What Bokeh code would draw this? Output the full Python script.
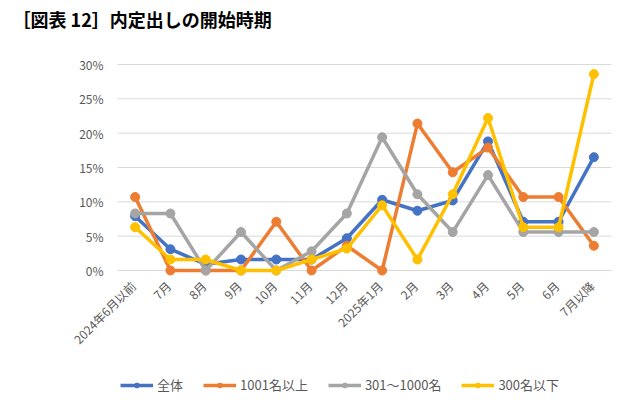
import math
from bokeh.plotting import figure
from bokeh.models import Range1d, Legend, LegendItem
from bokeh.core.properties import value
from bokeh.embed import file_html
from bokeh.resources import INLINE

categories = ["2024年6月以前", "7月", "8月", "9月", "10月", "11月", "12月",
              "2025年1月", "2月", "3月", "4月", "5月", "6月", "7月以降"]
series_names = ["全体", "1001名以上", "301～1000名", "300名以下"]
all_vals = [7.9, 3.1, 0.9, 1.6, 1.6, 1.6, 4.7, 10.3, 8.7, 10.2, 18.8, 7.1, 7.1, 16.5]
large_vals = [10.7, 0.0, 0.0, 0.0, 7.1, 0.0, 3.6, 0.0, 21.4, 14.3, 17.9, 10.7, 10.7, 3.6]
mid_vals = [8.3, 8.3, 0.0, 5.6, 0.0, 2.8, 8.3, 19.4, 11.1, 5.6, 13.9, 5.6, 5.6, 5.6]
small_vals = [6.3, 1.6, 1.6, 0.0, 0.0, 1.6, 3.2, 9.5, 1.6, 11.1, 22.2, 6.3, 6.3, 28.6]
colors = ["#4472C4", "#ED7D31", "#A5A5A5", "#FFC000"]
y_ticks = [0, 5, 10, 15, 20, 25, 30]
y_tick_labels = ["0%", "5%", "10%", "15%", "20%", "25%", "30%"]
title_text = "［図表 12］内定出しの開始時期"

FONT = "Noto Sans CJK JP"
W, H = 625, 399
n = len(categories)
XPX = 494 / n          # pixels per category
YPX = 206 / 30         # pixels per percentage point
plot_left, zero_y = 117, 270

x_start = -0.5 - plot_left / XPX
x_end = x_start + W / XPX
y_end = zero_y / YPX
y_start = -(H - zero_y) / YPX

p = figure(width=W, height=H, title=None,
           x_range=Range1d(x_start, x_end), y_range=Range1d(y_start, y_end),
           x_axis_location=None, y_axis_location=None,
           output_backend="svg", toolbar_location=None, min_border=0)
p.outline_line_color = None
p.background_fill_color = "white"
p.border_fill_color = "white"
p.xgrid.visible = False
p.ygrid.visible = False

idx = list(range(n))

# horizontal gridlines across the category bands
p.segment(x0=[-0.5] * len(y_ticks), x1=[n - 0.5] * len(y_ticks), y0=y_ticks, y1=y_ticks,
          line_color="#D9D9D9", line_width=1)

# y tick labels
p.text(x=[-0.5] * len(y_ticks), y=y_ticks, text=y_tick_labels, x_offset=-14,
       text_align="right", text_baseline="middle", text_color="#595959",
       text_font=value(FONT), text_font_size="12px")

# category labels (rotated 45°, ending at each category)
p.text(x=idx, y=[-13 / YPX] * n, text=categories, angle=math.pi / 4,
       text_align="right", text_baseline="middle", x_offset=-2,
       text_color="#595959", text_font=value(FONT), text_font_size="12px")

# title
p.text(x=[x_start + 12 / XPX], y=[(zero_y - 18) / YPX], text=[title_text],
       text_align="left", text_baseline="middle", text_color="#000000",
       text_font=value(FONT), text_font_size="18px", text_font_style="bold")

items = []
for name, vals, c in zip(series_names, [all_vals, large_vals, mid_vals, small_vals], colors):
    l = p.line(idx, vals, line_color=c, line_width=3.5)
    s = p.scatter(idx, vals, size=9, fill_color=c, line_color=c)
    items.append(LegendItem(label=name, renderers=[l, s]))

legend = Legend(items=items, orientation="horizontal", location=(120, 5),
                glyph_width=33, glyph_height=12, label_standoff=4, spacing=20,
                padding=0, margin=0, border_line_color=None, background_fill_alpha=0,
                label_text_font=FONT, label_text_font_size="13px", label_text_color="#595959")
p.add_layout(legend, "center")

open("out.html", "w").write(file_html(p, INLINE))
